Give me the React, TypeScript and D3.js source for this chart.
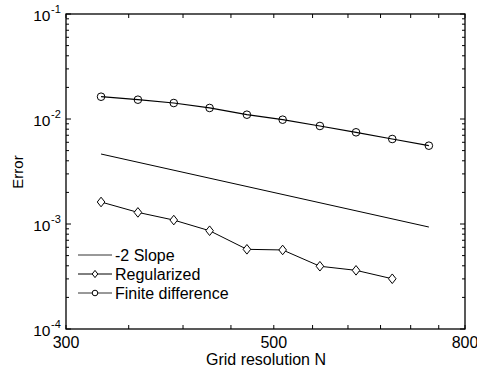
import React from "react";
import * as d3 from "d3";

const W = 477;
const H = 372;

const gridN = [327, 358, 391, 427, 468, 511, 560, 612, 669, 732];
const finiteDiff = [0.0163, 0.01527, 0.0142, 0.01274, 0.01099, 0.00985, 0.00858, 0.00747, 0.00645, 0.00557];
const regularized = [0.00162, 0.00129, 0.00109, 0.000863, 0.000574, 0.000566, 0.000396, 0.000362, 0.000301];
const slopeN = [327, 732];
const slopeErr = [0.00464, 0.000936];

const xTicks = [300, 350, 400, 450, 500, 550, 600, 650, 700, 750, 800];
const xTickLabels = [300, 500, 800];
const yDecades = [-4, -3, -2, -1];
const legendLabels = ["-2 Slope", "Regularized", "Finite difference"];

const left = 66, right = 465, top = 14, bottom = 329;

export default function App() {
  const x = d3.scaleLog().domain([300, 800]).range([left, right]);
  const y = d3.scaleLog().domain([1e-4, 1e-1]).range([bottom, top]);
  const line = d3.line<[number, number]>().x((d) => x(d[0])).y((d) => y(d[1]));

  const fdPts: [number, number][] = gridN.map((n, i) => [n, finiteDiff[i]]);
  const regPts: [number, number][] = regularized.map((v, i) => [gridN[i], v]);
  const slopePts: [number, number][] = slopeN.map((n, i) => [n, slopeErr[i]]);

  const minorY: number[] = [];
  for (let e = -4; e < -1; e++) {
    for (let m = 2; m <= 9; m++) minorY.push(m * Math.pow(10, e));
  }

  const font = "Liberation Sans, Arial, Helvetica, sans-serif";
  const diamond = (cx: number, cy: number, hw: number, hh: number) =>
    `M${cx},${cy - hh}L${cx + hw},${cy}L${cx},${cy + hh}L${cx - hw},${cy}Z`;

  const legY = [255, 274, 293];

  return (
    <svg width={W} height={H} style={{ position: "absolute", left: 0, top: 0, background: "#fff" }} fontFamily={font}>
      <rect x={0} y={0} width={W} height={H} fill="#fff" />
      {/* x ticks */}
      {xTicks.map((t) => (
        <g key={"xt" + t}>
          <line x1={x(t)} x2={x(t)} y1={bottom} y2={bottom - 4} stroke="#000" strokeWidth={1} />
          <line x1={x(t)} x2={x(t)} y1={top} y2={top + 4} stroke="#000" strokeWidth={1} />
        </g>
      ))}
      {/* y ticks */}
      {yDecades.map((e) => (
        <g key={"yt" + e}>
          <line x1={left} x2={left + 5} y1={y(Math.pow(10, e))} y2={y(Math.pow(10, e))} stroke="#000" />
          <line x1={right} x2={right - 5} y1={y(Math.pow(10, e))} y2={y(Math.pow(10, e))} stroke="#000" />
        </g>
      ))}
      {minorY.map((v, i) => (
        <g key={"ym" + i}>
          <line x1={left} x2={left + 3} y1={y(v)} y2={y(v)} stroke="#000" />
          <line x1={right} x2={right - 3} y1={y(v)} y2={y(v)} stroke="#000" />
        </g>
      ))}
      {/* frame */}
      <rect x={left} y={top} width={right - left} height={bottom - top} fill="none" stroke="#000" strokeWidth={1.3} />
      {/* tick labels */}
      {xTickLabels.map((t) => (
        <text key={"xl" + t} x={x(t)} y={348} textAnchor="middle" fontSize={16}>
          {t}
        </text>
      ))}
      {yDecades.map((e) => {
        const yy = y(Math.pow(10, e));
        return (
          <g key={"yl" + e}>
            <text x={50.5} y={yy + 7} textAnchor="end" fontSize={15.5}>10</text>
            <text x={51} y={yy - 1} textAnchor="start" fontSize={11}>{String(e)}</text>
          </g>
        );
      })}
      {/* axis labels */}
      <text x={266} y={365} textAnchor="middle" fontSize={16}>Grid resolution N</text>
      <text transform={`translate(23,172) rotate(-90)`} textAnchor="middle" fontSize={15}>Error</text>
      {/* data */}
      <path d={line(slopePts) || ""} fill="none" stroke="#000" strokeWidth={1} />
      <path d={line(fdPts) || ""} fill="none" stroke="#000" strokeWidth={1.2} />
      {fdPts.map((p, i) => (
        <circle key={"fd" + i} cx={x(p[0])} cy={y(p[1])} r={3.8} fill="none" stroke="#000" strokeWidth={1} />
      ))}
      <path d={line(regPts) || ""} fill="none" stroke="#000" strokeWidth={1} />
      {regPts.map((p, i) => (
        <path key={"rg" + i} d={diamond(x(p[0]), y(p[1]), 3.8, 4.8)} fill="#fff" stroke="#000" strokeWidth={1} />
      ))}
      {/* legend */}
      {legendLabels.map((lab, i) => (
        <g key={"lg" + i}>
          <line x1={78} x2={112} y1={legY[i]} y2={legY[i]} stroke={i === 1 ? "#000" : "#333"} strokeWidth={1} />
          {i === 1 && <path d={diamond(95, legY[i], 2.8, 3.6)} fill="#fff" stroke="#000" strokeWidth={1} />}
          {i === 2 && <circle cx={95} cy={legY[i]} r={2.8} fill="#fff" stroke="#000" strokeWidth={1} />}
          <text x={115} y={legY[i] + 5.5} fontSize={16}>{lab}</text>
        </g>
      ))}
    </svg>
  );
}
